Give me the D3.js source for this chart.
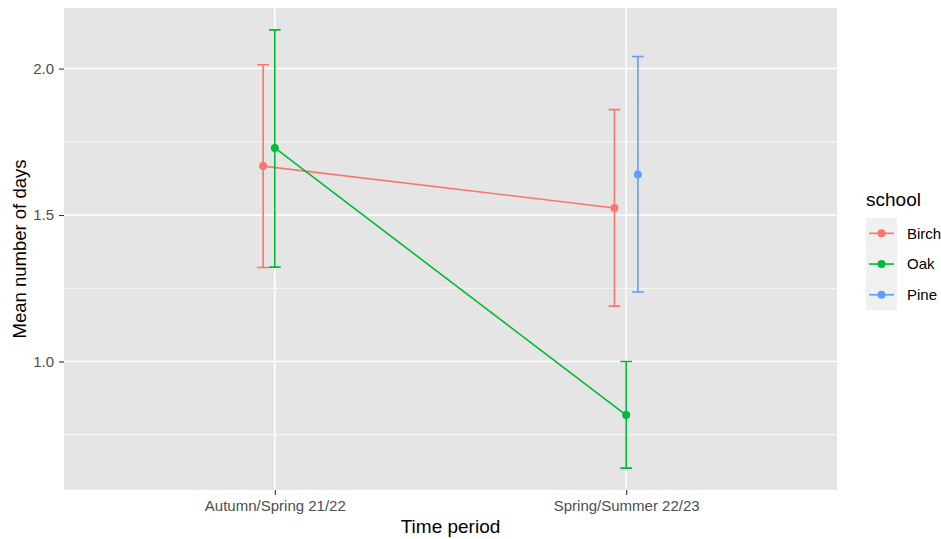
<!DOCTYPE html>
<html>
<head>
<meta charset="utf-8">
<script src="https://cdn.jsdelivr.net/npm/d3@7"></script>
<style>
  body { margin: 0; background: #fff; }
  svg { display: block; font-family: "Liberation Sans", Arial, Helvetica, sans-serif; }
</style>
</head>
<body>
<svg id="chart" width="941" height="539"></svg>
<script>
// data
const periods = ['Autumn/Spring 21/22', 'Spring/Summer 22/23'];
const schools = ['Birch', 'Oak', 'Pine'];
const colours = ['#F8766D', '#00BA38', '#619CFF'];

const birch_mean = [1.667, 1.524];
const birch_lower = [1.321, 1.189];
const birch_upper = [2.013, 1.860];

const oak_mean = [1.729, 0.817];
const oak_lower = [1.322, 0.636];
const oak_upper = [2.132, 1.000];

const pine_mean = [null, 1.638];
const pine_lower = [null, 1.237];
const pine_upper = [null, 2.041];

const y_ticks = [1.0, 1.5, 2.0];
const y_minor = [0.75, 1.25, 1.75];

const series = [
  { key: 'Birch', mean: birch_mean, lower: birch_lower, upper: birch_upper },
  { key: 'Oak', mean: oak_mean, lower: oak_lower, upper: oak_upper },
  { key: 'Pine', mean: pine_mean, lower: pine_lower, upper: pine_upper }
];

const svg = d3.select('#chart');
const panel = { left: 64, right: 837, top: 8, bottom: 490 };

const colour = d3.scaleOrdinal().domain(schools).range(colours);

// discrete x: positions 1..n, expanded by 0.6 on each side like ggplot
const x = d3.scaleLinear()
  .domain([0.4, periods.length + 0.6])
  .range([panel.left, panel.right]);
// dodge width 0.1
const dodge = d3.scaleBand().domain(schools).range([-0.05, 0.05]);
const xpos = (i, key) => x(i + 1 + dodge(key) + dodge.bandwidth() / 2);

const all_vals = [];
series.forEach(s => {
  s.lower.forEach(v => { if (v != null) all_vals.push(v); });
  s.upper.forEach(v => { if (v != null) all_vals.push(v); });
});
const [ymin, ymax] = d3.extent(all_vals);
const pad = (ymax - ymin) * 0.05;
const y = d3.scaleLinear()
  .domain([ymin - pad, ymax + pad])
  .range([panel.bottom, panel.top]);

// PANEL
svg.append('rect')
  .attr('x', panel.left)
  .attr('y', panel.top)
  .attr('width', panel.right - panel.left)
  .attr('height', panel.bottom - panel.top)
  .attr('fill', '#E5E5E5');

svg.append('g').selectAll('line')
  .data(y_minor)
  .join('line')
  .attr('x1', panel.left).attr('x2', panel.right)
  .attr('y1', d => y(d)).attr('y2', d => y(d))
  .attr('stroke', '#fff').attr('stroke-width', 0.8);

svg.append('g').selectAll('line')
  .data(y_ticks)
  .join('line')
  .attr('x1', panel.left).attr('x2', panel.right)
  .attr('y1', d => y(d)).attr('y2', d => y(d))
  .attr('stroke', '#fff').attr('stroke-width', 1.6);

svg.append('g').selectAll('line')
  .data(periods)
  .join('line')
  .attr('x1', (d, i) => x(i + 1)).attr('x2', (d, i) => x(i + 1))
  .attr('y1', panel.top).attr('y2', panel.bottom)
  .attr('stroke', '#fff').attr('stroke-width', 1.6);

// AXES
const yAxis = svg.append('g')
  .attr('transform', `translate(${panel.left},0)`)
  .call(d3.axisLeft(y).tickValues(y_ticks).tickFormat(d3.format('.1f')).tickSize(5).tickPadding(5));
const xAxis = svg.append('g')
  .attr('transform', `translate(0,${panel.bottom})`)
  .call(d3.axisBottom(x).tickValues(periods.map((d, i) => i + 1))
    .tickFormat(i => periods[i - 1]).tickSize(5).tickPadding(5));

[yAxis, xAxis].forEach(a => {
  a.select('.domain').remove();
  a.selectAll('.tick line').attr('stroke', '#333').attr('stroke-width', 1.1);
  a.selectAll('.tick text')
    .attr('fill', '#4D4D4D')
    .style('font-size', '15px')
    .style('font-family', '"Liberation Sans", Arial, sans-serif');
});

svg.append('text')
  .attr('x', (panel.left + panel.right) / 2)
  .attr('y', 533)
  .attr('text-anchor', 'middle')
  .style('font-size', '19px')
  .attr('fill', '#000')
  .text('Time period');

svg.append('text')
  .attr('transform', `translate(25.5,${(panel.top + panel.bottom) / 2}) rotate(-90)`)
  .attr('text-anchor', 'middle')
  .style('font-size', '18.5px')
  .attr('fill', '#000')
  .text('Mean number of days');

// LINES, ERROR BARS, POINTS
const line = d3.line()
  .defined(d => d.v != null)
  .x(d => d.x)
  .y(d => y(d.v));

const cap = dodge.bandwidth();

series.forEach(s => {
  const g = svg.append('g').attr('class', 'school');
  const c = colour(s.key);
  const pts = s.mean.map((v, i) => ({ x: xpos(i, s.key), v }));

  g.append('path')
    .attr('d', line(pts))
    .attr('fill', 'none')
    .attr('stroke', c)
    .attr('stroke-width', 1.6);

  s.mean.forEach((v, i) => {
    if (v == null) return;
    const cx = xpos(i, s.key);
    const half = (x(cap) - x(0)) / 2;
    const bar = 'M ' + cx + ',' + y(s.lower[i]) + ' L ' + cx + ',' + y(s.upper[i])
      + ' M ' + (cx - half) + ',' + y(s.upper[i]) + ' L ' + (cx + half) + ',' + y(s.upper[i])
      + ' M ' + (cx - half) + ',' + y(s.lower[i]) + ' L ' + (cx + half) + ',' + y(s.lower[i]);
    g.append('path')
      .attr('d', bar)
      .attr('fill', 'none')
      .attr('stroke', c)
      .attr('stroke-width', 1.6);
    g.append('circle')
      .attr('cx', cx)
      .attr('cy', y(v))
      .attr('r', 4)
      .attr('fill', c);
  });
});

// LEGEND
const legend = svg.append('g').attr('transform', 'translate(866,0)');
legend.append('text')
  .attr('x', 0)
  .attr('y', 206)
  .style('font-size', '19px')
  .attr('fill', '#000')
  .text('school');

const key_h = 30.7;
const keys = legend.selectAll('.key')
  .data(schools)
  .join('g')
  .attr('class', 'key')
  .attr('transform', (d, i) => `translate(0,${218 + i * key_h})`);

keys.append('rect')
  .attr('width', 31)
  .attr('height', key_h)
  .attr('fill', '#F0F0F0');
keys.append('line')
  .attr('x1', 3).attr('x2', 28)
  .attr('y1', key_h / 2).attr('y2', key_h / 2)
  .attr('stroke', d => colour(d))
  .attr('stroke-width', 1.6);
keys.append('circle')
  .attr('cx', 15.5).attr('cy', key_h / 2)
  .attr('r', 4)
  .attr('fill', d => colour(d));
keys.append('text')
  .attr('x', 41)
  .attr('y', key_h / 2 + 5.3)
  .style('font-size', '15px')
  .attr('fill', '#000')
  .text(d => d);
</script>
</body>
</html>
